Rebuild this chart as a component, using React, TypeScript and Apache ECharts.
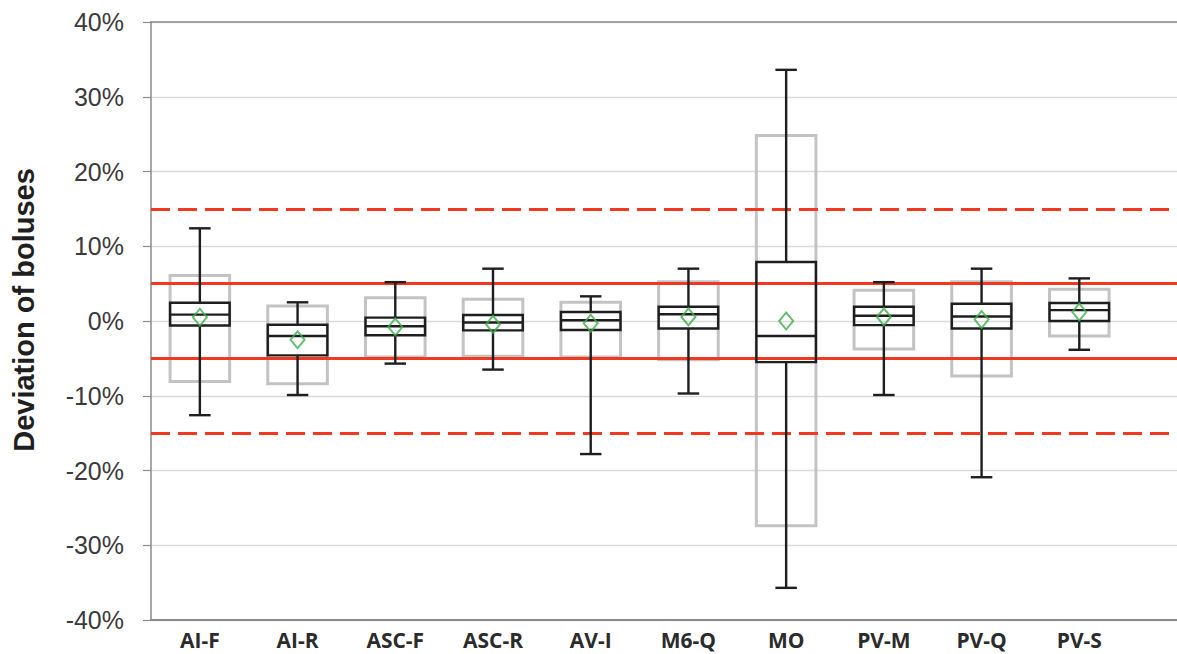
import React, { useEffect, useRef } from "react";
import * as echarts from "echarts";

// Catheter positions along the x axis
const categories = ["AI-F", "AI-R", "ASC-F", "ASC-R", "AV-I", "M6-Q", "MO", "PV-M", "PV-Q", "PV-S"];

// Deviation of boluses, in percent
const whiskerHigh = [12.4, 2.5, 5.2, 7.0, 3.3, 7.0, 33.6, 5.2, 7.0, 5.7];
const whiskerLow = [-12.6, -9.9, -5.7, -6.5, -17.8, -9.7, -35.7, -9.9, -20.9, -3.85];
const outerHigh = [6.1, 2.0, 3.1, 2.9, 2.5, 5.25, 24.8, 4.1, 5.25, 4.25];
const outerLow = [-8.1, -8.4, -4.8, -4.7, -4.8, -5.2, -27.4, -3.75, -7.35, -2.0];
const q3 = [2.45, -0.5, 0.45, 0.8, 1.2, 1.9, 7.9, 1.9, 2.3, 2.4];
const q1 = [-0.6, -4.6, -1.9, -1.25, -1.2, -1.0, -5.5, -0.55, -1.0, 0.0];
const median = [0.85, -2.0, -0.7, -0.2, 0.1, 0.9, -2.0, 0.7, 0.6, 1.45];
const mean = [0.5, -2.5, -0.8, -0.45, -0.3, 0.55, 0.0, 0.55, 0.2, 1.2];

// Tolerance limits
const toleranceSolid = [5, -5];
const toleranceDashed = [15, -15];

const yMin = -40;
const yMax = 40;
const yStep = 10;

// the plot keeps running half a slot past the last position
const xMin = -0.5;
const xMax = categories.length;

const BOX_FRACTION = 0.61;
const CAP_FRACTION = 0.22;

export default function App() {
  const ref = useRef<HTMLDivElement>(null);

  useEffect(() => {
    if (!ref.current) return;
    const chart = echarts.init(ref.current, null, { renderer: "svg" });

    const positions = categories.map((_, i) => i);
    const outerData = positions.map((i) => [i, outerHigh[i], outerLow[i]]);
    const innerData = positions.map((i) => [i, whiskerHigh[i], q3[i], median[i], q1[i], whiskerLow[i]]);
    const meanData = positions.map((i) => [i, mean[i]]);

    const redStyle = { color: "#f2391f", width: 3 };
    const frameColor = "#8a8a8a";

    chart.setOption({
      animation: false,
      backgroundColor: "#ffffff",
      grid: {
        left: 151,
        top: 22,
        right: 0,
        bottom: 34,
      },
      graphic: [
        {
          type: "text",
          x: 24,
          y: 310,
          rotation: Math.PI / 2,
          style: {
            text: "Deviation of boluses",
            fill: "#1f1f1f",
            fontFamily: "Liberation Sans",
            fontWeight: "bold",
            fontSize: 29,
            align: "center",
            verticalAlign: "middle",
          },
        },
      ],
      xAxis: [
        {
          type: "value",
          min: xMin,
          max: xMax,
          axisLine: { show: true, onZero: false, lineStyle: { color: frameColor, width: 2 } },
          axisTick: { show: false },
          splitLine: { show: false },
          axisLabel: {
            customValues: positions,
            formatter: (v: number) => categories[Math.round(v)] ?? "",
            margin: 9,
            color: "#2b2b2b",
            fontFamily: "Open Sans",
            fontWeight: "bold",
            fontSize: 21,
          },
        },
        {
          // plain frame line along the top of the plot
          type: "value",
          position: "top",
          min: xMin,
          max: xMax,
          axisLine: { show: true, onZero: false, lineStyle: { color: frameColor, width: 1.5 } },
          axisTick: { show: false },
          axisLabel: { show: false },
          splitLine: { show: false },
        },
      ],
      yAxis: {
        type: "value",
        min: yMin,
        max: yMax,
        interval: yStep,
        axisLine: { show: true, onZero: false, lineStyle: { color: frameColor, width: 1.5 } },
        axisTick: { show: true, length: 8, lineStyle: { color: frameColor, width: 1.2 } },
        splitLine: { show: true, lineStyle: { color: "#d9d9d9", width: 1.3 } },
        axisLabel: {
          margin: 27,
          color: "#3a3a3a",
          fontFamily: "Liberation Sans",
          fontSize: 25,
          formatter: "{value}%",
        },
      },
      series: [
        {
          // outer (grey) range boxes, carrying the tolerance lines
          type: "custom",
          z: 2,
          data: outerData,
          encode: { x: 0, y: [1, 2] },
          renderItem: (_params: any, api: any) => {
            const x = api.value(0);
            const hi = api.coord([x, api.value(1)]);
            const lo = api.coord([x, api.value(2)]);
            const w = api.size([1, 0])[0] * BOX_FRACTION;
            return {
              type: "rect",
              shape: { x: hi[0] - w / 2, y: hi[1], width: w, height: lo[1] - hi[1] },
              style: { fill: "none", stroke: "#c3c3c6", lineWidth: 3 },
            };
          },
          markLine: {
            silent: true,
            symbol: ["none", "none"],
            label: { show: false },
            z: 5,
            data: [
              ...toleranceSolid.map((v) => ({ yAxis: v, lineStyle: { ...redStyle, type: "solid" } })),
              ...toleranceDashed.map((v) => ({
                yAxis: v,
                lineStyle: { ...redStyle, type: [19, 8] },
              })),
            ],
          },
        },
        {
          // whiskers, interquartile box and median
          type: "custom",
          z: 6,
          data: innerData,
          encode: { x: 0, y: [1, 5] },
          renderItem: (_params: any, api: any) => {
            const x = api.value(0);
            const pHi = api.coord([x, api.value(1)]);
            const pQ3 = api.coord([x, api.value(2)]);
            const pMed = api.coord([x, api.value(3)]);
            const pQ1 = api.coord([x, api.value(4)]);
            const pLo = api.coord([x, api.value(5)]);
            const band = api.size([1, 0])[0];
            const w = band * BOX_FRACTION;
            const c = band * CAP_FRACTION;
            const cx = pHi[0];
            const stroke = { stroke: "#1e1e1e", lineWidth: 2.4, fill: "none" };
            return {
              type: "group",
              children: [
                { type: "line", shape: { x1: cx, y1: pHi[1], x2: cx, y2: pQ3[1] }, style: stroke },
                { type: "line", shape: { x1: cx - c / 2, y1: pHi[1], x2: cx + c / 2, y2: pHi[1] }, style: stroke },
                { type: "line", shape: { x1: cx, y1: pQ1[1], x2: cx, y2: pLo[1] }, style: stroke },
                { type: "line", shape: { x1: cx - c / 2, y1: pLo[1], x2: cx + c / 2, y2: pLo[1] }, style: stroke },
                {
                  type: "rect",
                  shape: { x: cx - w / 2, y: pQ3[1], width: w, height: pQ1[1] - pQ3[1] },
                  style: stroke,
                },
                { type: "line", shape: { x1: cx - w / 2, y1: pMed[1], x2: cx + w / 2, y2: pMed[1] }, style: stroke },
              ],
            };
          },
        },
        {
          // mean values
          type: "scatter",
          z: 7,
          data: meanData,
          symbol: "diamond",
          symbolSize: [14, 17],
          itemStyle: { color: "rgba(0,0,0,0)", borderColor: "#3dae4a", borderWidth: 2 },
        },
      ],
    });

    return () => chart.dispose();
  }, []);

  return (
    <div
      ref={ref}
      style={{ position: "absolute", left: 0, top: 0, width: 1177, height: 654 }}
    />
  );
}
